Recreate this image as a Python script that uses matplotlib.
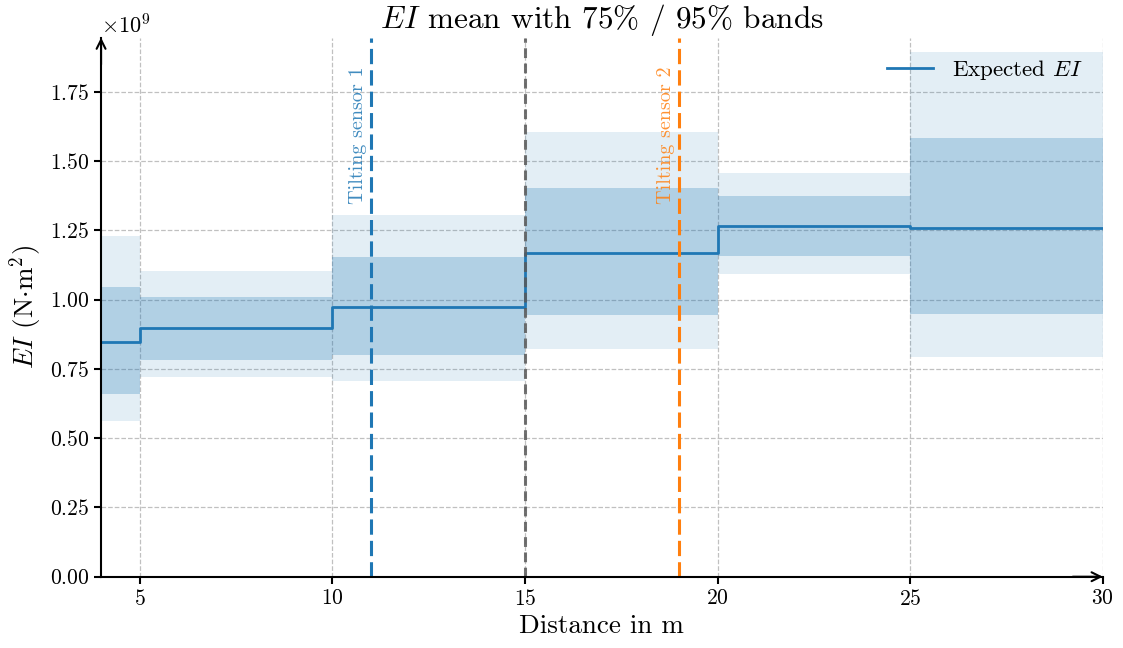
import matplotlib
matplotlib.use("Agg")
import matplotlib.pyplot as plt
import numpy as np

plt.rcParams['font.family'] = 'serif'
plt.rcParams['font.serif'] = ['cmr10', 'DejaVu Serif']
plt.rcParams['mathtext.fontset'] = 'cm'
plt.rcParams['axes.formatter.use_mathtext'] = True

edges = [4, 5, 10, 15, 20, 25, 30]
mean_ei = [0.848e9, 0.897e9, 0.973e9, 1.167e9, 1.265e9, 1.257e9]
lo75 = [0.658e9, 0.783e9, 0.801e9, 0.943e9, 1.158e9, 0.948e9]
hi75 = [1.046e9, 1.010e9, 1.152e9, 1.401e9, 1.374e9, 1.584e9]
lo95 = [0.560e9, 0.719e9, 0.707e9, 0.823e9, 1.092e9, 0.791e9]
hi95 = [1.230e9, 1.104e9, 1.306e9, 1.606e9, 1.457e9, 1.894e9]
sensor_pos = [11, 19]
sensor_labels = ["Tilting sensor 1", "Tilting sensor 2"]
sensor_colors = ["tab:blue", "tab:orange"]
split_pos = 15
xticks = [5, 10, 15, 20, 25, 30]
yticks = [0, 0.25e9, 0.5e9, 0.75e9, 1.0e9, 1.25e9, 1.5e9, 1.75e9]

def ext(v):
    return list(v) + [v[-1]]

fig = plt.figure(figsize=(11.23, 6.48), dpi=100)
ax = fig.add_axes([0.09, 0.11, 0.892, 0.832])

blue = 'tab:blue'
ax.fill_between(edges, ext(lo95), ext(hi95), step='post', color=blue, alpha=0.12, lw=0)
ax.fill_between(edges, ext(lo75), ext(hi75), step='post', color=blue, alpha=0.25, lw=0)
ax.step(edges, ext(mean_ei), where='post', color=blue, lw=2, label='Expected $EI$')

for xp, lab, c in zip(sensor_pos, sensor_labels, sensor_colors):
    ax.axvline(xp, color=c, ls=(0, (5, 2)), lw=2.2)
    ax.text(xp - 0.1, 1.84e9, lab, rotation=90, ha='right', va='top',
            color=c, fontsize=14.5, alpha=0.85)
ax.axvline(split_pos, color='0.35', alpha=0.85, ls=(0, (3.2, 1.8)), lw=2.2)

ax.set_xlim(4, 30)
ax.set_ylim(0, 1.945e9)
ax.set_xticks(xticks)
ax.set_yticks(yticks)
ax.grid(True, ls='--', color='#c0c0c0', lw=0.9)
ax.set_axisbelow(True)
ax.tick_params(labelsize=15.5, width=1.5, length=5)
for s in ['top', 'right']:
    ax.spines[s].set_visible(False)
for s in ['left', 'bottom']:
    ax.spines[s].set_linewidth(1.5)
ax.annotate('', xy=(1.0, 0), xytext=(0.97, 0), xycoords='axes fraction',
            arrowprops=dict(arrowstyle='->', lw=1.5, color='k', mutation_scale=16,
                            shrinkA=0, shrinkB=0), annotation_clip=False)
ax.annotate('', xy=(0, 1.0), xytext=(0, 0.95), xycoords='axes fraction',
            arrowprops=dict(arrowstyle='->', lw=1.5, color='k', mutation_scale=16,
                            shrinkA=0, shrinkB=0), annotation_clip=False)
ax.yaxis.get_offset_text().set_fontsize(16)

ax.set_xlabel('Distance in m', fontsize=19.5)
ax.set_ylabel(r'$EI$ (N$\cdot$m$^2$)', fontsize=19.5)
ax.set_title(r'$EI$ mean with 75% / 95% bands', fontsize=22.5, pad=3)
leg = ax.legend(loc='upper right', frameon=False, fontsize=16.5)

fig.savefig('out.png', dpi=100)
